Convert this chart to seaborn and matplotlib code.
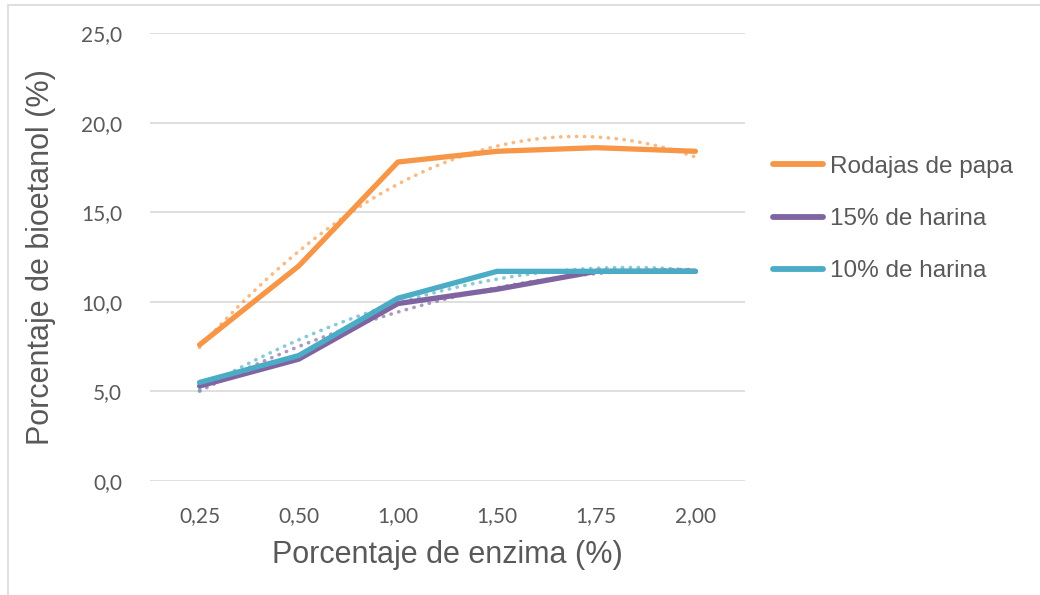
import numpy as np
import pandas as pd
import matplotlib.pyplot as plt
import seaborn as sns
from matplotlib.patches import Rectangle

# valores
enzima = ['0,25', '0,50', '1,00', '1,50', '1,75', '2,00']
rodajas_papa = [7.6, 12.0, 17.8, 18.4, 18.6, 18.4]
harina_15 = [5.3, 6.8, 9.9, 10.7, 11.7, 11.7]
harina_10 = [5.5, 7.0, 10.2, 11.7, 11.7, 11.7]
series = ['Rodajas de papa', '15% de harina', '10% de harina']
colores = ['#F79646', '#8064A2', '#4BACC6']

df = pd.DataFrame({
    'enzima': enzima * 3,
    'bioetanol': rodajas_papa + harina_15 + harina_10,
    'serie': [s for s in series for _ in enzima],
})

sns.set_style('white')
plt.rcParams['font.family'] = ['Liberation Sans', 'DejaVu Sans']

fig = plt.figure(figsize=(10.4, 5.95), dpi=100)
ax = fig.add_axes([150 / 1040, 1 - 481 / 595, 595 / 1040, 448 / 595])

# borde exterior del grafico
fig.patches.append(Rectangle((8 / 1040, -0.1), 1.2, 1.1 - 5 / 595, transform=fig.transFigure,
                             fill=False, edgecolor='#D9D9D9', linewidth=1.2, zorder=0))

# lineas de tendencia (polinomicas)
pos = np.arange(len(enzima))
for vals, col in zip([rodajas_papa, harina_15, harina_10], colores):
    sns.regplot(x=pos, y=np.array(vals), order=2, ci=None, scatter=False, ax=ax,
                line_kws=dict(color=col, alpha=0.65, linewidth=2.6, linestyle=(0, (0.1, 2.1)),
                              dash_capstyle='round', label='_nolegend_'))

sns.lineplot(data=df, x='enzima', y='bioetanol', hue='serie', palette=colores, ax=ax,
             linewidth=3.8, solid_capstyle='round', solid_joinstyle='round', sort=False)

ax.set_xlim(-0.5, 5.5)
ax.set_ylim(0, 25)
ax.set_yticks([0, 5, 10, 15, 20, 25])
ax.set_yticklabels([f'{v:.1f}'.replace('.', ',') for v in [0, 5, 10, 15, 20, 25]])
ax.set_xticks(pos)
ax.set_xticklabels(enzima)
ax.yaxis.grid(True, color='#D9D9D9', linewidth=1.2)
ax.xaxis.grid(False)
for s in ax.spines.values():
    s.set_visible(False)
ax.tick_params(axis='both', length=0, labelsize=15, labelcolor='#595959')
for lab in ax.get_xticklabels() + ax.get_yticklabels():
    lab.set_family(['Lato', 'DejaVu Sans'])
ax.tick_params(axis='y', pad=20)
ax.tick_params(axis='x', pad=18)

ax.set_xlabel('Porcentaje de enzima (%)', fontsize=22, color='#595959', labelpad=10)
ax.set_ylabel('Porcentaje de bioetanol (%)', fontsize=22, color='#595959', labelpad=18)

leg = ax.legend(loc='upper left', bbox_to_anchor=(751 / 1040, 1 - 134 / 595),
                bbox_transform=fig.transFigure, frameon=False, fontsize=17.5,
                handlelength=2.05, handletextpad=0.32, labelspacing=1.24)
for t in leg.get_texts():
    t.set_color('#595959')
for h in leg.get_lines():
    h.set_linewidth(4.2)

fig.savefig('out.png', dpi=100)
